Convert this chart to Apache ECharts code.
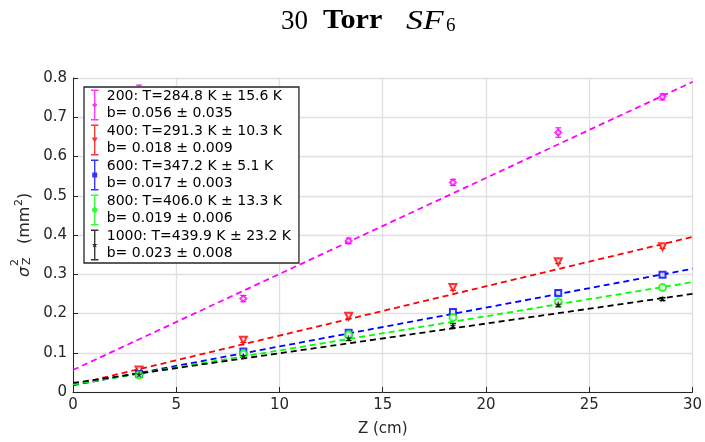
<!DOCTYPE html>
<html><head><meta charset="utf-8">
<script src="https://cdn.jsdelivr.net/npm/echarts@6/dist/echarts.min.js"></script>
<style>html,body{margin:0;padding:0;background:#fff}#c{width:705px;height:442px}</style>
</head><body><div id="c"></div>
<script>
// ---- data ----
var zPos = [3.2, 8.25, 13.35, 18.4, 23.5, 28.55];
var labels = [
  "200: T=284.8 K \u00b1 15.6 K\nb= 0.056 \u00b1 0.035",
  "400: T=291.3 K \u00b1 10.3 K\nb= 0.018 \u00b1 0.009",
  "600: T=347.2 K \u00b1 5.1 K\nb= 0.017 \u00b1 0.003",
  "800: T=406.0 K \u00b1 13.3 K\nb= 0.019 \u00b1 0.006",
  "1000: T=439.9 K \u00b1 23.2 K\nb= 0.023 \u00b1 0.008"
];
var v200  = [0.765, 0.238, 0.385, 0.534, 0.661, 0.752];
var v400  = [0.056, 0.132, 0.193, 0.266, 0.332, 0.370];
var v600  = [0.046, 0.103, 0.151, 0.204, 0.252, 0.299];
var v800  = [0.043, 0.097, 0.146, 0.190, 0.230, 0.266];
var v1000 = [0.045, 0.092, 0.137, 0.169, 0.223, 0.237];
var e200  = [0.017, 0.008, 0.007, 0.008, 0.012, 0.008];
var e400  = [0.004, 0.006, 0.006, 0.007, 0.005, 0.004];
var e600  = [0.004, 0.004, 0.004, 0.006, 0.005, 0.004];
var e800  = [0.004, 0.004, 0.006, 0.007, 0.005, 0.005];
var e1000 = [0.004, 0.004, 0.006, 0.006, 0.006, 0.004];
var fitB   = [0.056, 0.018, 0.017, 0.019, 0.023];   // value at Z=0
var fitEnd = [0.790, 0.395, 0.314, 0.280, 0.250];   // value at Z=30
var xTicks = [0, 5, 10, 15, 20, 25, 30];
var yTicks = [0, 0.1, 0.2, 0.3, 0.4, 0.5, 0.6, 0.7, 0.8];

// ---- styles ----
var colors = ['#ff00ff', '#ff0000', '#0000ff', '#00ff00', '#000000'];
var values = [v200, v400, v600, v800, v1000];
var errs = [e200, e400, e600, e800, e1000];
var starPath = 'path://M50,0 L61,35 L98,35 L68,57 L79,91 L50,70 L21,91 L32,57 L2,35 L39,35 Z';
var symbols = ['emptyDiamond', 'emptyTriangle', 'emptyRect', 'emptyCircle', starPath];
var rotates = [0, 180, 0, 0, 0];
var sizes = [6, 7, 6, 7, 7];
var bar = 'M0,0 h6 v1.2 h-6 Z M0,23.8 h6 v1.2 h-6 Z M2.45,0 h1.1 v25 h-1.1 Z ';
var legIcons = [
  'path://' + bar + 'M3,10.3 L5.2,12.5 L3,14.7 L0.8,12.5 Z',
  'path://' + bar + 'M0.6,10.5 L5.4,10.5 L3,14.9 Z',
  'path://' + bar + 'M1,10.5 h4 v4 h-4 Z',
  'path://' + bar + 'M2.1,10.3 h1.8 l1.3,1.3 v1.8 l-1.3,1.3 h-1.8 l-1.3,-1.3 v-1.8 Z',
  'path://' + bar + 'M3,10.1 L3.7,11.7 L5.3,11.7 L4,12.8 L4.5,14.5 L3,13.5 L1.5,14.5 L2,12.8 L0.7,11.7 L2.3,11.7 Z'
];
var axisColor = '#262626';
var font = 'DejaVu Sans';

var series = [];
for (var i = 0; i < 5; i++) {
  (function (i) {
    var pts = zPos.map(function (z, k) { return [z, values[i][k]]; });
    var ebs = zPos.map(function (z, k) { return [z, values[i][k] - errs[i][k], values[i][k] + errs[i][k]]; });
    series.push({
      type: 'line', name: 'fit' + i, silent: true, symbol: 'none', z: 2,
      data: [[xTicks[0], fitB[i]], [xTicks[xTicks.length - 1], fitEnd[i]]],
      lineStyle: { color: colors[i], width: 1.8, type: [6, 4] }
    });
    series.push({
      type: 'custom', name: 'err' + i, silent: true, z: 2,
      data: ebs,
      renderItem: function (params, api) {
        var lo = api.coord([api.value(0), api.value(1)]);
        var hi = api.coord([api.value(0), api.value(2)]);
        var w = 3;
        var st = { stroke: colors[i], lineWidth: 1.1 };
        return { type: 'group', children: [
          { type: 'line', shape: { x1: lo[0], y1: lo[1], x2: hi[0], y2: hi[1] }, style: st },
          { type: 'line', shape: { x1: lo[0] - w, y1: lo[1], x2: lo[0] + w, y2: lo[1] }, style: st },
          { type: 'line', shape: { x1: hi[0] - w, y1: hi[1], x2: hi[0] + w, y2: hi[1] }, style: st }
        ] };
      }
    });
    series.push({
      type: 'scatter', name: labels[i], z: 3,
      data: pts, symbol: symbols[i], symbolRotate: rotates[i], symbolSize: sizes[i],
      itemStyle: { color: colors[i], borderWidth: 1.4 }
    });
  })(i);
}

var chart = echarts.init(document.getElementById('c'), null, { renderer: 'canvas' });
chart.setOption({
  animation: false,
  backgroundColor: '#fff',
  grid: { left: 73, right: 12, top: 78, bottom: 48, containLabel: false },
  xAxis: {
    type: 'value', min: xTicks[0], max: xTicks[xTicks.length - 1], interval: 5,
    name: 'Z (cm)', nameLocation: 'middle', nameGap: 30,
    nameTextStyle: { fontFamily: font, fontSize: 15, color: axisColor },
    axisLine: { show: true, onZero: false, lineStyle: { color: axisColor, width: 1 } },
    axisTick: { show: true, inside: true, length: 5, lineStyle: { color: axisColor } },
    axisLabel: { fontFamily: font, fontSize: 15, color: axisColor, margin: 6 },
    splitLine: { show: true, lineStyle: { color: '#dfdfdf', width: 1.3 } }
  },
  yAxis: {
    type: 'value', min: yTicks[0], max: yTicks[yTicks.length - 1], interval: 0.1,
    axisLine: { show: true, onZero: false, lineStyle: { color: axisColor, width: 1 } },
    axisTick: { show: true, inside: true, length: 5, lineStyle: { color: axisColor } },
    axisLabel: { fontFamily: font, fontSize: 15, color: axisColor, margin: 6,
      formatter: function (v) { return v === 0 ? '0' : (+v.toFixed(1)).toString(); } },
    splitLine: { show: true, lineStyle: { color: '#dfdfdf', width: 1.3 } }
  },
  legend: {
    orient: 'vertical', left: 84, top: 87, z: 20,
    data: labels.map(function (n, i) { return { name: n, icon: legIcons[i] }; }),
    backgroundColor: '#fff', borderColor: axisColor, borderWidth: 1.3,
    padding: [1, 8, 1, 7], itemGap: 1, itemWidth: 14, itemHeight: 31,
    itemStyle: { borderWidth: 0 },
    textStyle: { fontFamily: font, fontSize: 14, color: '#000', lineHeight: 17 },
    selectedMode: false
  },
  graphic: [
    { type: 'text', x: 281, y: 21.5, style: { text: '30', fontFamily: 'Liberation Serif', fontSize: 27, fill: '#000', verticalAlign: 'middle' } },
    { type: 'text', x: 323, y: 21.5, scaleX: 1.12, style: { text: 'Torr', fontFamily: 'Liberation Serif', fontWeight: 'bold', fontSize: 27, fill: '#000', verticalAlign: 'middle' } },
    { type: 'text', x: 406, y: 21.5, scaleX: 1.25, style: { text: 'SF', fontFamily: 'Liberation Serif', fontStyle: 'italic', fontSize: 27, fill: '#000', verticalAlign: 'middle' } },
    { type: 'text', x: 446, y: 26, style: { text: '6', fontFamily: 'Liberation Serif', fontSize: 19, fill: '#000', verticalAlign: 'middle' } },
    { type: 'group', x: 25, y: 277, rotation: Math.PI / 2, children: [
      { type: 'text', x: 0, y: 0, style: { text: '\u03c3', fontFamily: font, fontStyle: 'italic', fontSize: 16, fill: axisColor, verticalAlign: 'middle' } },
      { type: 'text', x: 11, y: -9.5, style: { text: '2', fontFamily: font, fontSize: 11, fill: axisColor, verticalAlign: 'middle' } },
      { type: 'text', x: 12, y: 2, style: { text: 'Z', fontFamily: font, fontSize: 11, fill: axisColor, verticalAlign: 'middle' } },
      { type: 'text', x: 33, y: 0, style: { text: '(mm', fontFamily: font, fontSize: 16, fill: axisColor, verticalAlign: 'middle' } },
      { type: 'text', x: 71, y: -6, style: { text: '2', fontFamily: font, fontSize: 11, fill: axisColor, verticalAlign: 'middle' } },
      { type: 'text', x: 78, y: 0, style: { text: ')', fontFamily: font, fontSize: 16, fill: axisColor, verticalAlign: 'middle' } }
    ] }
  ],
  series: series
});
</script></body></html>
